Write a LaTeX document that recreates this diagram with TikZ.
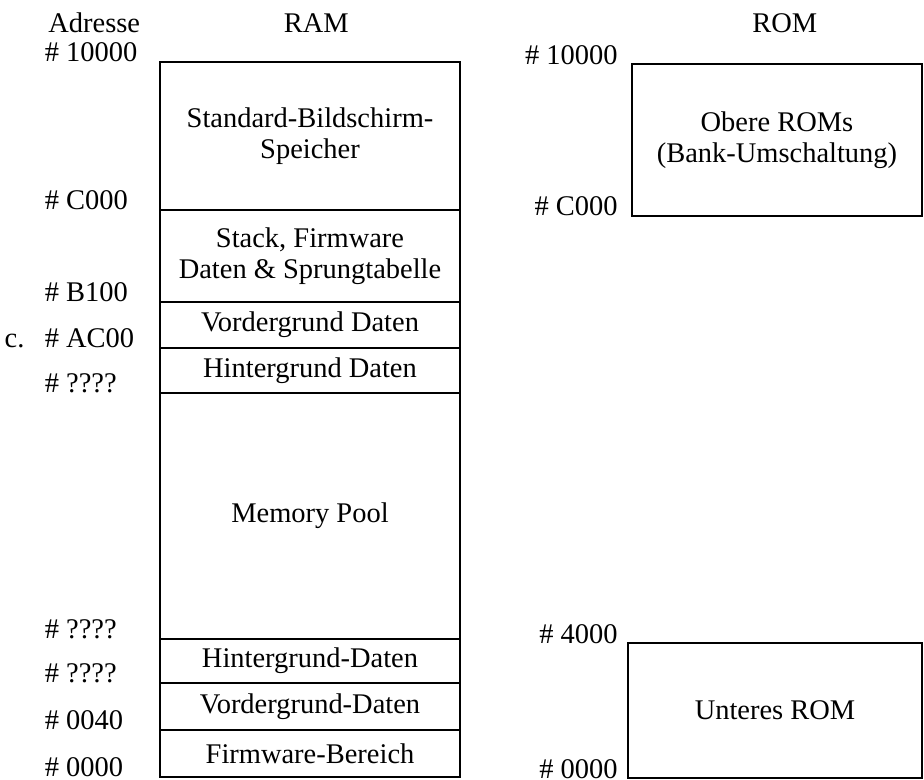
\documentclass[tikz,border=0pt]{standalone}
\usepackage{fontspec}
\setmainfont{Liberation Serif}
\usetikzlibrary{positioning}

\begin{document}
\begin{tikzpicture}[font=\fontsize{13.5}{14.5}\selectfont,
  region/.style={draw,line width=.9pt,minimum width=5cm,inner sep=0pt,
                 outer sep=0pt,align=center},
  romblock/.style={draw,line width=.9pt,inner sep=0pt,outer sep=0pt,
                   align=center,anchor=north west},
  addr/.style={anchor=base west,inner sep=0pt},
  romaddr/.style={anchor=base east,inner sep=0pt}]
\path[use as bounding box] (0,0) rectangle (15.4,13);
\node[anchor=base west,inner sep=0pt] (adresse) at (0.8,12.45) {Adresse};
\node[anchor=base,inner sep=0pt] (ramtitle) at (5.27,12.45) {RAM};
\node[anchor=base,inner sep=0pt] (romtitle) at (13.08,12.45) {ROM};

% RAM column
\node[region,minimum height=2.467cm,anchor=north] (screen) at (5.167,11.967)
      {Standard-Bildschirm-\\Speicher};
\node[region,minimum height=1.533cm,below=0pt of screen] (stack)
      {Stack, Firmware\\Daten \& Sprungtabelle};
\node[region,minimum height=.767cm,below=0pt of stack] (fgd)
      {Vordergrund Daten};
\node[region,minimum height=.75cm,below=0pt of fgd] (bgd)
      {Hintergrund Daten};
\node[region,minimum height=4.1cm,below=0pt of bgd] (pool)
      {Memory Pool};
\node[region,minimum height=.733cm,below=0pt of pool] (bgdlow)
      {Hintergrund-Daten};
\node[region,minimum height=.783cm,below=0pt of bgdlow] (fgdlow)
      {Vordergrund-Daten};
\node[region,minimum height=.783cm,below=0pt of fgdlow] (fwarea)
      {Firmware-Bereich};

% ROM column
\node[romblock,minimum width=4.833cm,minimum height=2.533cm] (upperrom)
      at (10.533,11.933) {Obere ROMs\\(Bank-Umschaltung)};
\node[romblock,minimum width=4.9cm,minimum height=2.25cm] (lowerrom)
      at (10.467,2.283) {Unteres ROM};

% addresses
\coordinate (addrx) at (0.74,0);
\coordinate (circax) at (0.07,0);
\coordinate (romx) at (10.3,0);
\node[addr] (a10000) at (addrx |- screen.north) {\# 10000};
\node[addr] (aC000) at (addrx |- screen.south) {\# C000};
\node[addr] (aB100) at (addrx |- stack.south) {\# B100};
\node[addr] (aAC00) at (addrx |- fgd.south) {\# AC00};
\node[addr] (circa) at (circax |- fgd.south) {c.};
\node[addr] (aqa) at (addrx |- bgd.south) {\# ????};
\node[addr] (aqb) at (addrx |- pool.south) {\# ????};
\node[addr] (aqc) at (addrx |- bgdlow.south) {\# ????};
\node[addr] (a0040) at (addrx |- fgdlow.south) {\# 0040};
\node[addr] (a0000) at (addrx |- fwarea.south) {\# 0000};
\node[romaddr] (r10000) at (romx |- upperrom.north) {\# 10000};
\node[romaddr] (rC000) at (romx |- upperrom.south) {\# C000};
\node[romaddr] (r4000) at (romx |- lowerrom.north) {\# 4000};
\node[romaddr] (r0000) at (romx |- lowerrom.south) {\# 0000};
\end{tikzpicture}
\end{document}
